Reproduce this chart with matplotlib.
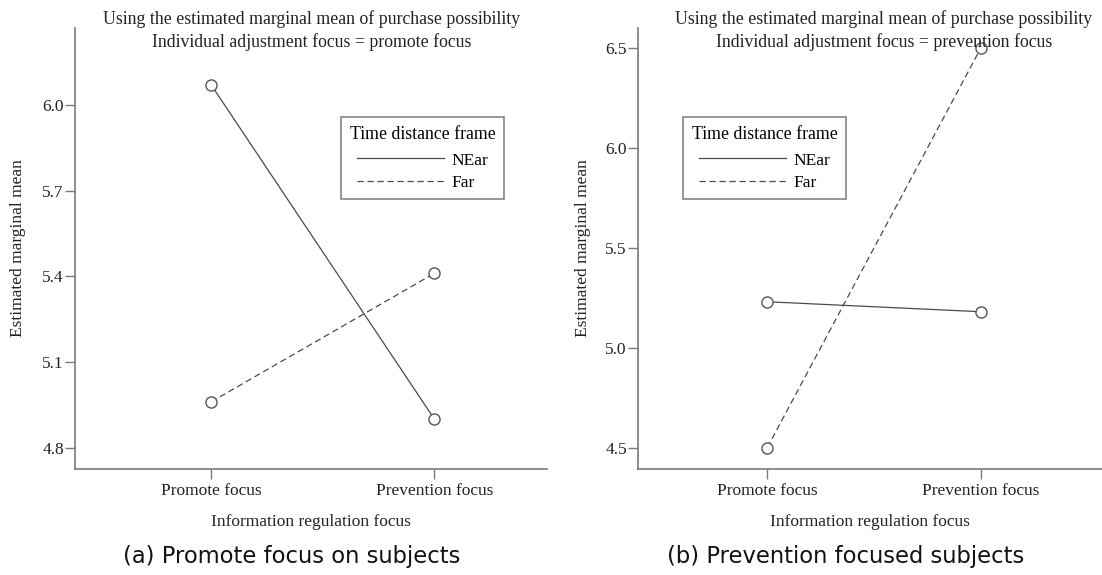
import numpy as np
import matplotlib
matplotlib.use("Agg")
import matplotlib.pyplot as plt

# values
categories = ["Promote focus", "Prevention focus"]
series_names = ["NEar", "Far"]

near_a = [6.07, 4.90]
far_a = [4.96, 5.41]
near_b = [5.23, 5.18]
far_b = [4.50, 6.50]

yticks_a = [4.8, 5.1, 5.4, 5.7, 6.0]
yticks_b = [4.5, 5.0, 5.5, 6.0, 6.5]

titles = ["Using the estimated marginal mean of purchase possibility\nIndividual adjustment focus = promote focus",
          "Using the estimated marginal mean of purchase possibility\nIndividual adjustment focus = prevention focus"]
captions = ["(a) Promote focus on subjects", "(b) Prevention focused subjects"]

serif = "Liberation Serif"
W, H = 1102, 575
fig = plt.figure(figsize=(W / 100, H / 100), dpi=100)

def fx(px):
    return px / W

def fy(py):
    return 1 - py / H

# axes boxes in pixels: left, right, top, bottom
boxes = [(75, 547, 28, 469), (638, 1102, 28, 469)]
ylims = [(4.725, 6.269), (4.393, 6.60)]
xlims = [(-0.61, 1.505), (-0.605, 1.567)]
data = [(near_a, far_a), (near_b, far_b)]
yticks = [yticks_a, yticks_b]
title_x = [312, 884]
legend_x = [341, 683]
ylabel_x = [18, 583]
caption_x = [292, 846]

line_col = "#4a4a4a"
axis_col = "#7a7a7a"

for i in range(2):
    l, r, t, b = boxes[i]
    ax = fig.add_axes([fx(l), fy(b), fx(r - l), (b - t) / H])
    x = np.arange(len(categories))
    near, far = data[i]
    ax.plot(x, near, color=line_col, lw=0.9, ls="-", marker="o", ms=8,
            mfc="white", mec="#555555", mew=1.0, label=series_names[0])
    ax.plot(x, far, color=line_col, lw=0.9, ls=(0, (5, 3)), marker="o", ms=8,
            mfc="white", mec="#555555", mew=1.0, label=series_names[1])
    ax.set_xlim(*xlims[i])
    ax.set_ylim(*ylims[i])
    ax.set_xticks(x)
    ax.set_xticklabels(categories, fontfamily=serif, fontsize=12.5, color="#222222")
    ax.set_yticks(yticks[i])
    ax.set_yticklabels(["%.1f" % v for v in yticks[i]], fontfamily=serif, fontsize=12.5, color="#222222")
    ax.tick_params(axis="y", length=7, width=1, color=axis_col, pad=1)
    ax.tick_params(axis="x", length=7, width=1, color=axis_col, pad=3)
    for s in ["top", "right"]:
        ax.spines[s].set_visible(False)
    for s in ["left", "bottom"]:
        ax.spines[s].set_color(axis_col)
        ax.spines[s].set_linewidth(1.2)

    ax.set_xlabel("Information regulation focus", fontfamily=serif, fontsize=12.5,
                  color="#222222", labelpad=11)
    fig.text(fx(ylabel_x[i]), fy((t + b) / 2), "Estimated marginal mean", rotation=90,
             ha="center", va="center", fontfamily=serif, fontsize=12.5, color="#222222")
    fig.text(fx(title_x[i]), fy(10), titles[i], ha="center", va="top",
             fontfamily=serif, fontsize=12.8, color="#222222", linespacing=1.35)

    leg = ax.legend(loc="upper left", bbox_to_anchor=(fx(legend_x[i]), fy(117)),
                    bbox_transform=fig.transFigure, borderaxespad=0,
                    title="Time distance frame", frameon=True, fancybox=False,
                    handlelength=5.0, handletextpad=0.4, labelspacing=0.35,
                    borderpad=0.5, prop={"family": serif, "size": 12.5},
                    title_fontproperties={"family": serif, "size": 12.8})
    leg._legend_box.sep = 7
    leg.get_frame().set_edgecolor("#666666")
    leg.get_frame().set_linewidth(1.2)
    for h in leg.legend_handles:
        h.set_marker("")

    fig.text(fx(caption_x[i]), fy(556), captions[i], ha="center", va="center",
             fontfamily="DejaVu Sans", fontsize=16.3, color="#111111")

fig.savefig("out.png", dpi=100)
